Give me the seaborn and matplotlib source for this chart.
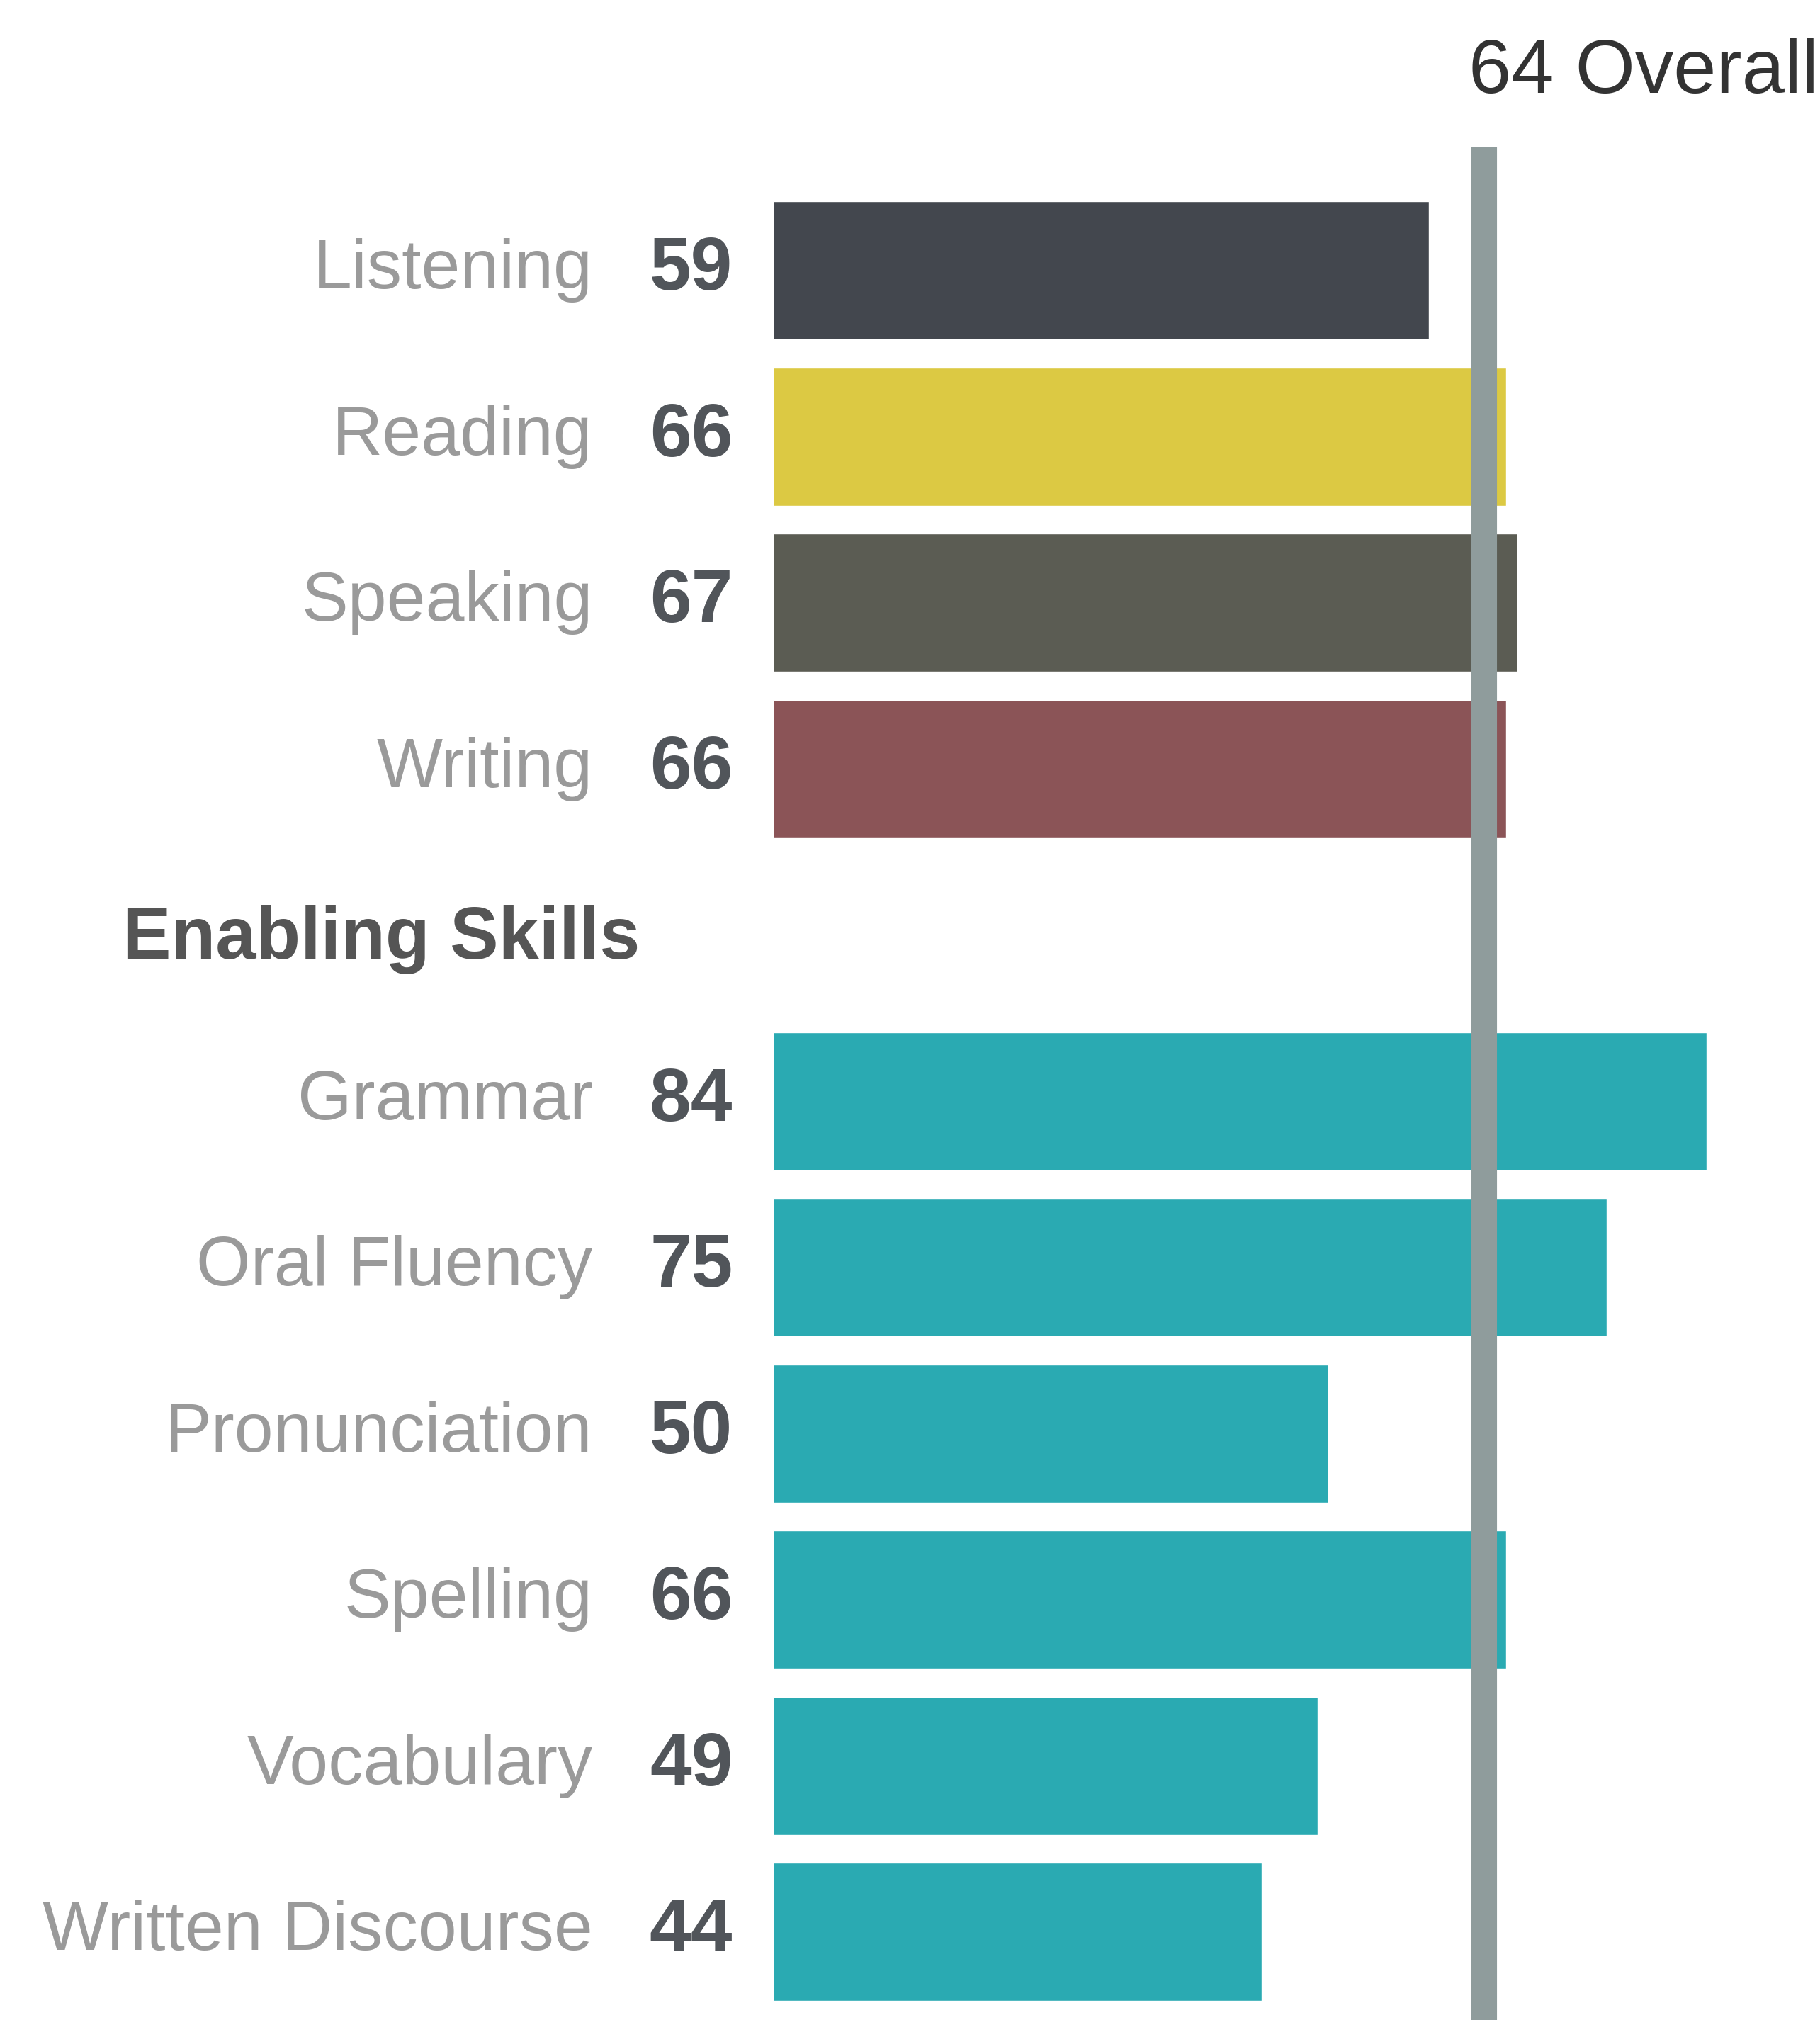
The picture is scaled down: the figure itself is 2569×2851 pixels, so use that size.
import matplotlib
matplotlib.use("Agg")
import matplotlib.pyplot as plt
import pandas as pd
import seaborn as sns

# data
comm_skills = ["Listening", "Reading", "Speaking", "Writing"]
comm_scores = [59, 66, 67, 66]
enabling_skills = ["Grammar", "Oral Fluency", "Pronunciation", "Spelling",
                   "Vocabulary", "Written Discourse"]
enabling_scores = [84, 75, 50, 66, 49, 44]
overall_score = 64
header_label = "Enabling Skills"

bar_colors = {
    "Listening": "#43474e",
    "Reading": "#dcc943",
    "Speaking": "#5b5c53",
    "Writing": "#8b5457",
}
teal = "#2aaab2"
for s in enabling_skills:
    bar_colors[s] = teal

df = pd.DataFrame({
    "skill": comm_skills + enabling_skills,
    "score": comm_scores + enabling_scores,
})
# empty slot where the section header sits
row_order = comm_skills + [header_label] + enabling_skills

sns.set_theme(style="white")
plt.rcParams["font.family"] = ["Liberation Sans", "DejaVu Sans"]

fig = plt.figure(figsize=(25.69, 28.51), dpi=100)
fig.patch.set_facecolor("white")
ax = fig.add_axes([0.4246, 0.0, 0.5754, 1.0])

sns.barplot(
    data=df, x="score", y="skill", hue="skill", order=row_order,
    palette=bar_colors, saturation=1, width=0.83, legend=False, ax=ax,
)

ax.set_xlim(0, 94.2)
ax.set_ylim(10.53, -1.628)
ax.set_xlabel("")
ax.set_ylabel("")
ax.set_xticks([])
ax.set_yticks([])
for sp in ax.spines.values():
    sp.set_visible(False)
ax.patch.set_alpha(0)

# overall line
ax.vlines(overall_score, -0.74, 10.6, color="#8f9c9c", linewidth=26, zorder=5)
ax.text(62.6, -1.07, f"{overall_score} Overall", fontsize=78, color="#333333",
        ha="left", va="baseline", clip_on=False)

# row labels and scores
for i, name in enumerate(row_order):
    if name == header_label:
        ax.text(-58.5, i + 0.03, name, fontsize=74, fontweight="bold", color="#555555",
                ha="left", va="center", clip_on=False)
        continue
    score = df.loc[df["skill"] == name, "score"].iloc[0]
    ax.text(-3.6, i, str(score), fontsize=76, fontweight="bold", color="#51555a",
            ha="right", va="center", clip_on=False)
    ax.text(-16.2, i, name, fontsize=71, color="#9a9a9a",
            ha="right", va="center", clip_on=False)

fig.savefig("out.png", dpi=100, facecolor="white")
